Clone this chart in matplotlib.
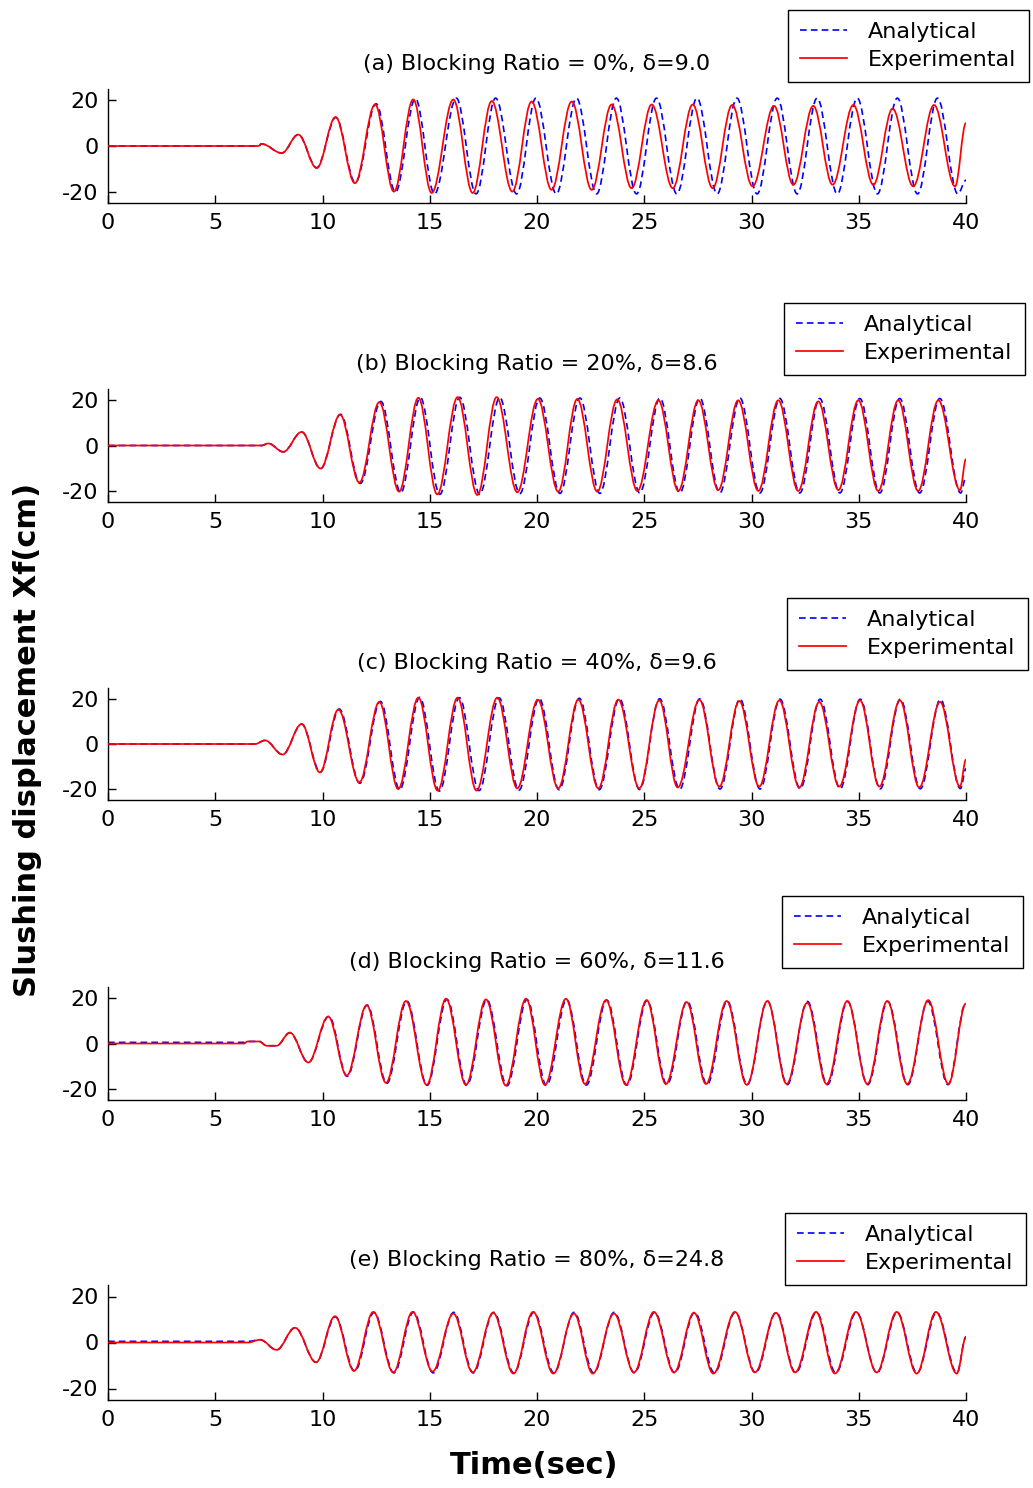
import matplotlib
matplotlib.use("Agg")
from matplotlib import pyplot as plt
from matplotlib.path import Path
from matplotlib.patches import PathPatch
from matplotlib.lines import Line2D

# turning points (time in s, displacement in cm) of each record
exp_a_t = [0, 7.0, 7.16, 8.10, 8.87, 9.73, 10.61, 11.51, 12.45, 13.33, 14.23, 15.09, 16.10, 17.00, 17.89, 18.85,
           19.75, 20.68, 21.62, 22.55, 23.48, 24.41, 25.35, 26.33, 27.26, 28.19, 29.10, 30.05, 31.05, 31.95,
           32.88, 33.78, 34.75, 35.68, 36.58, 37.54, 38.51, 39.49, 40.0]
exp_a_v = [0, 0, 0.9, -3.1, 5.0, -9.7, 12.7, -16.3, 18.2, -20.0, 20.4, -20.6, 20.4, -20.6, 19.7, -20.0,
           19.5, -19.2, 19.5, -19.2, 18.2, -18.5, 18.2, -18.5, 18.2, -18.5, 18.0, -17.7, 17.6, -17.0,
           17.6, -17.0, 18.0, -17.0, 16.4, -17.7, 18.0, -17.7, 10.1]
ana_a_t = [0, 7.0, 7.16, 8.10, 8.87, 9.73, 10.62, 11.53, 12.50, 13.40, 14.33, 15.22, 16.24, 17.16, 18.07, 19.05,
           19.95, 20.90, 21.84, 22.78, 23.70, 24.64, 25.57, 26.52, 27.46, 28.40, 29.32, 30.26, 31.20, 32.13,
           33.06, 34.00, 34.93, 35.87, 36.80, 37.74, 38.67, 39.62, 40.0]
ana_a_v = [0, 0, 0.9, -3.1, 5.0, -9.5, 12.5, -16.0, 18.5, -20.2, 20.8, -21.0, 21.0, -21.0, 21.0, -21.0,
           21.0, -21.0, 21.0, -21.0, 21.0, -21.0, 21.0, -21.0, 21.0, -21.0, 21.0, -21.0, 21.0, -21.0,
           21.0, -21.0, 21.0, -21.0, 21.0, -21.0, 21.0, -21.0, -15.0]

exp_b_t = [0, 7.16, 7.47, 8.17, 9.03, 9.91, 10.82, 11.72, 12.65, 13.57, 14.47, 15.35, 16.30, 17.22, 18.12, 19.08,
           20.04, 20.99, 21.88, 22.81, 23.74, 24.68, 25.66, 26.59, 27.52, 28.45, 29.38, 30.32, 31.25, 32.18,
           33.11, 34.05, 34.98, 35.91, 36.84, 37.77, 38.71, 39.72, 40.0]
exp_b_v = [0, 0, 0.9, -2.8, 6.0, -10.2, 13.6, -16.4, 19.2, -20.4, 21.1, -21.6, 21.4, -21.9, 21.4, -20.7,
           20.6, -20.4, 20.6, -20.4, 20.4, -20.1, 20.0, -20.1, 20.0, -19.7, 20.0, -20.1, 20.0, -20.1,
           19.5, -19.7, 20.0, -20.1, 20.0, -20.1, 20.0, -19.7, -6.0]
ana_b_t = [0, 7.16, 7.47, 8.17, 9.03, 9.91, 10.84, 11.76, 12.72, 13.65, 14.56, 15.47, 16.40, 17.33, 18.26, 19.20,
           20.13, 21.07, 22.00, 22.93, 23.86, 24.79, 25.73, 26.66, 27.59, 28.52, 29.46, 30.39, 31.32, 32.25,
           33.18, 34.12, 35.05, 35.98, 36.91, 37.84, 38.78, 39.75, 40.0]
ana_b_v = [0, 0, 0.9, -2.8, 6.0, -10.2, 13.8, -16.8, 19.5, -20.8, 21.2, -21.6, 21.3, -21.6, 21.2, -21.3,
           21.0, -21.2, 21.0, -21.2, 21.0, -21.0, 21.0, -21.0, 21.0, -21.0, 21.0, -21.0, 20.8, -21.0,
           20.8, -21.0, 20.8, -21.0, 20.8, -21.0, 20.8, -21.0, -14.0]

exp_c_t = [0, 6.85, 7.32, 8.14, 9.03, 9.88, 10.74, 11.72, 12.65, 13.53, 14.47, 15.37, 16.30, 17.18, 18.15, 19.08,
           20.04, 20.99, 21.93, 22.86, 23.79, 24.77, 25.70, 26.56, 27.57, 28.50, 29.43, 30.36, 31.30, 32.23,
           33.16, 34.09, 35.06, 35.96, 36.92, 37.82, 38.79, 39.72, 40.0]
exp_c_v = [0, 0, 1.6, -4.7, 8.9, -12.7, 15.4, -17.1, 18.8, -20.1, 20.7, -20.8, 20.7, -20.8, 20.7, -19.8,
           19.8, -19.8, 19.8, -19.8, 19.8, -19.8, 19.5, -19.4, 19.8, -19.0, 19.2, -19.0, 19.5, -19.4,
           18.8, -19.0, 19.5, -19.0, 19.5, -19.4, 18.8, -19.0, -6.9]
ana_c_t = [0, 6.85, 7.32, 8.14, 9.03, 9.90, 10.78, 11.74, 12.70, 13.60, 14.53, 15.45, 16.38, 17.30, 18.23, 19.16,
           20.10, 21.03, 21.97, 22.90, 23.84, 24.78, 25.72, 26.65, 27.59, 28.53, 29.46, 30.40, 31.33, 32.27,
           33.20, 34.13, 35.07, 36.00, 36.94, 37.87, 38.81, 39.74, 40.0]
ana_c_v = [0, 0, 1.6, -4.7, 8.9, -12.5, 15.6, -17.5, 19.0, -20.3, 20.8, -21.0, 20.7, -20.8, 20.6, -20.6,
           20.4, -20.4, 20.4, -20.4, 20.3, -20.3, 20.2, -20.2, 20.2, -20.1, 20.1, -20.1, 20.0, -20.0,
           20.0, -20.0, 20.0, -20.0, 20.0, -20.0, 19.9, -19.9, -11.0]

exp_d_t = [0, 6.35, 6.5, 7.05, 7.4, 7.86, 8.48, 9.34, 10.27, 11.13, 12.06, 12.96, 13.89, 14.86, 15.76, 16.69,
           17.62, 18.55, 19.49, 20.37, 21.35, 22.24, 23.22, 24.15, 25.11, 26.01, 26.98, 27.88, 28.84, 29.78,
           30.74, 31.64, 32.60, 33.50, 34.47, 35.40, 36.33, 37.26, 38.24, 39.18, 40.0]
exp_d_v = [0, 0, 0.9, 0.9, -1.0, -1.0, 4.8, -8.4, 11.9, -14.2, 16.9, -17.4, 18.8, -18.3, 19.8, -18.3,
           19.5, -18.6, 19.8, -18.3, 19.8, -17.9, 19.2, -18.3, 19.2, -17.9, 18.3, -17.9, 18.8, -18.3,
           18.8, -17.9, 18.0, -17.9, 18.8, -17.9, 18.8, -17.9, 19.2, -17.9, 17.7]
ana_d_t = [0, 6.35, 6.5, 7.05, 7.4, 7.86, 8.48, 9.34, 10.30, 11.15, 12.08, 13.00, 13.93, 14.88, 15.80, 16.73,
           17.66, 18.60, 19.53, 20.44, 21.38, 22.30, 23.25, 24.19, 25.13, 26.06, 27.00, 27.93, 28.87, 29.80,
           30.74, 31.67, 32.61, 33.54, 34.48, 35.42, 36.35, 37.29, 38.22, 39.16, 40.0]
ana_d_v = [0.5, 0.5, 0.9, 0.9, -1.0, -1.0, 4.8, -8.4, 12.0, -14.5, 17.0, -17.6, 18.8, -18.5, 19.5, -18.5,
           19.4, -18.7, 19.4, -18.6, 19.4, -18.4, 19.2, -18.4, 19.0, -18.2, 18.8, -18.2, 18.8, -18.2,
           18.8, -18.2, 18.6, -18.2, 18.6, -18.2, 18.6, -18.2, 18.6, -18.2, 18.0]

exp_e_t = [0, 6.54, 7.09, 7.86, 8.72, 9.70, 10.58, 11.47, 12.37, 13.30, 14.20, 15.13, 16.10, 17.00, 17.96, 18.90,
           19.82, 20.76, 21.72, 22.60, 23.59, 24.52, 25.45, 26.39, 27.32, 28.22, 29.23, 30.16, 31.14, 32.03,
           33.01, 33.89, 34.87, 35.84, 36.77, 37.70, 38.60, 39.57, 40.0]
exp_e_v = [0, 0, 1.2, -3.2, 6.4, -8.6, 11.4, -12.3, 13.3, -13.0, 13.3, -12.6, 12.6, -13.0, 12.9, -13.5,
           13.3, -13.5, 12.6, -13.5, 12.6, -13.0, 13.3, -13.0, 12.9, -13.5, 13.3, -13.0, 12.9, -13.0,
           13.3, -13.5, 13.3, -13.0, 13.3, -13.5, 13.3, -13.5, 2.3]
ana_e_t = [0, 6.54, 7.09, 7.86, 8.72, 9.70, 10.60, 11.50, 12.40, 13.33, 14.24, 15.16, 16.12, 17.03, 17.98, 18.92,
           19.85, 20.79, 21.73, 22.64, 23.60, 24.54, 25.48, 26.42, 27.35, 28.27, 29.24, 30.19, 31.15, 32.06,
           33.03, 33.93, 34.89, 35.85, 36.79, 37.72, 38.63, 39.58, 40.0]
ana_e_v = [0.5, 0.5, 1.2, -3.2, 6.4, -8.6, 11.2, -12.5, 13.0, -13.2, 13.2, -13.2, 13.1, -13.2, 13.1, -13.2,
           13.1, -13.2, 13.1, -13.2, 13.1, -13.2, 13.1, -13.2, 13.1, -13.2, 13.1, -13.2, 13.1, -13.2,
           13.1, -13.2, 13.1, -13.2, 13.1, -13.2, 13.1, -13.2, 2.5]

titles = ["(a) Blocking Ratio = 0%, \u03b4=9.0",
          "(b) Blocking Ratio = 20%, \u03b4=8.6",
          "(c) Blocking Ratio = 40%, \u03b4=9.6",
          "(d) Blocking Ratio = 60%, \u03b4=11.6",
          "(e) Blocking Ratio = 80%, \u03b4=24.8"]
x_ticks = [0, 5, 10, 15, 20, 25, 30, 35, 40]
y_ticks = [-20, 0, 20]
y_tick_labels = ["-20", "0", "20"]

records = [(exp_a_t, exp_a_v, ana_a_t, ana_a_v),
           (exp_b_t, exp_b_v, ana_b_t, ana_b_v),
           (exp_c_t, exp_c_v, ana_c_t, ana_c_v),
           (exp_d_t, exp_d_v, ana_d_t, ana_d_v),
           (exp_e_t, exp_e_v, ana_e_t, ana_e_v)]

W, H = 1033, 1488
# axes boxes (top, bottom) and legend corners in pixels
ax_rows = [(89, 203), (389, 502), (688, 800), (987, 1100), (1285, 1400)]
leg_corners = [(788, 10), (784, 303), (787, 598), (782, 896), (785, 1213)]
ax_left, ax_right = 108, 966


def smooth_path(t, v):
    # cubic pieces between turning points, flat tangent at each one
    verts = [(t[0], v[0])]
    codes = [Path.MOVETO]
    for i in range(len(t) - 1):
        h = 0.3634 * (t[i + 1] - t[i])
        verts += [(t[i] + h, v[i]), (t[i + 1] - h, v[i + 1]), (t[i + 1], v[i + 1])]
        codes += [Path.CURVE4] * 3
    return Path(verts, codes)


fig = plt.figure(figsize=(W / 100, H / 100), dpi=100)
fig.patch.set_facecolor("white")

dash = (0, (4, 2.5))
for k, (et, ev, at, av) in enumerate(records):
    top, bot = ax_rows[k]
    ax = fig.add_axes([ax_left / W, 1 - bot / H, (ax_right - ax_left) / W, (bot - top) / H])
    ax.add_patch(PathPatch(smooth_path(at, av), fill=False, edgecolor="#0000ff",
                           lw=1.2, linestyle=dash, transform=ax.transData, zorder=2))
    ax.add_patch(PathPatch(smooth_path(et, ev), fill=False, edgecolor="#ff0000",
                           lw=1.25, transform=ax.transData, zorder=3))
    ax.set_xlim(0, 40)
    ax.set_ylim(-25, 25)
    ax.set_xticks(x_ticks)
    ax.set_yticks(y_ticks)
    ax.set_yticklabels(y_tick_labels)
    ax.spines["top"].set_visible(False)
    ax.spines["right"].set_visible(False)
    for s in ("left", "bottom"):
        ax.spines[s].set_linewidth(1.0)
        ax.spines[s].set_color("black")
    ax.tick_params(direction="in", length=6, width=1, labelsize=16, pad=7)
    ax.set_title(titles[k], fontsize=16, pad=14)

    handles = [Line2D([], [], color="#0000ff", lw=1.2, linestyle=dash),
               Line2D([], [], color="#ff0000", lw=1.25)]
    lx, ly = leg_corners[k]
    leg = ax.legend(handles, ["Analytical", "Experimental"], loc="upper left",
                    bbox_to_anchor=(lx / W, 1 - ly / H), bbox_transform=fig.transFigure,
                    borderaxespad=0, fontsize=16, fancybox=False, framealpha=1,
                    edgecolor="black", borderpad=0.55, labelspacing=0.35,
                    handlelength=2.1, handletextpad=0.95)
    leg.get_frame().set_linewidth(1.0)

fig.text(28 / W, 1 - 740 / H, "Slushing displacement Xf(cm)", rotation=90,
         fontsize=22, fontweight="bold", ha="center", va="center")
fig.text(534 / W, 1 - 1465 / H, "Time(sec)", fontsize=22, fontweight="bold",
         ha="center", va="center")

fig.savefig("out.png", dpi=100)
